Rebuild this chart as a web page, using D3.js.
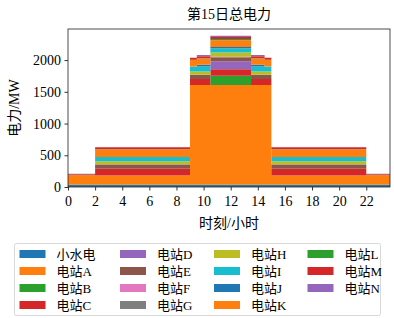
<!DOCTYPE html>
<html>
<head>
<meta charset="utf-8">
<script src="https://cdn.jsdelivr.net/npm/d3@7"></script>
<style>
body { margin: 0; background: #fff; }
text { font-family: "Liberation Serif", "Noto Sans CJK SC", serif; fill: #000; }
</style>
</head>
<body>
<div id="plot"></div>
<script>
// segment start hours (step after), last point closes the range
const hours = [0, 2, 9, 9.5, 10.5, 13.5, 14.5, 15, 22, 23.75];
const names = ["小水电", "电站A", "电站B", "电站C", "电站D", "电站E", "电站F", "电站G",
               "电站H", "电站I", "电站J", "电站K", "电站L", "电站M", "电站N"];
const s0 = [35, 35, 35, 35, 35, 35, 35, 35, 35];
const sA = [150, 147, 1572, 1572, 1572, 1572, 1572, 147, 150];
const sB = [0, 0, 0, 0, 147, 0, 0, 0, 0];
const sC = [15, 105, 95, 95, 100, 95, 95, 105, 15];
const sD = [0, 0, 0, 0, 126, 0, 0, 0, 0];
const sE = [0, 68, 63, 63, 63, 63, 63, 68, 0];
const sF = [0, 0, 0, 0, 4, 0, 0, 0, 0];
const sG = [8, 4, 4, 4, 4, 4, 4, 4, 8];
const sH = [0, 47, 52, 52, 68, 52, 52, 47, 0];
const sI = [0, 68, 79, 79, 68, 79, 79, 68, 0];
const sJ = [0, 0, 0, 25, 20, 25, 0, 0, 0];
const sK = [0, 117, 100, 100, 105, 100, 100, 117, 0];
const sL = [0, 5, 5, 5, 20, 5, 5, 5, 0];
const sM = [0, 30, 30, 30, 30, 30, 30, 30, 0];
const sN = [0, 0, 0, 20, 20, 20, 0, 0, 0];
const series = [s0, sA, sB, sC, sD, sE, sF, sG, sH, sI, sJ, sK, sL, sM, sN];
const xTicks = [0, 2, 4, 6, 8, 10, 12, 14, 16, 18, 20, 22];
const yTicks = [0, 500, 1000, 1500, 2000];
const colors = ["#1f77b4", "#ff7f0e", "#2ca02c", "#d62728", "#9467bd", "#8c564b", "#e377c2",
                "#7f7f7f", "#bcbd22", "#17becf", "#1f77b4", "#ff7f0e", "#2ca02c", "#d62728", "#9467bd"];

let W = 394, H = 318;
let margin = {top: 29, right: 4, bottom: 131, left: 68};
let width = W - margin.left - margin.right;
let height = H - margin.top - margin.bottom;

let svg = d3.select("#plot").append("svg")
	.attr("width", W).attr("height", H);
let g = svg.append("g")
	.attr("transform", "translate(" + margin.left + "," + margin.top + ")");

// table of rows, one per time point
let rows = hours.map((h, i) => {
	let r = {h: h};
	names.forEach((n, k) => r[n] = series[k][Math.min(i, series[k].length - 1)]);
	return r;
});
let stacked = d3.stack().keys(names)(rows);

let x = d3.scaleLinear().domain([0, 23.75]).range([0, width]);
let y = d3.scaleLinear().domain([0, 2490]).range([height, 0]);

let area = d3.area()
	.curve(d3.curveStepAfter)
	.x(d => x(d.data.h))
	.y0(d => y(d[0]))
	.y1(d => y(d[1]));

g.selectAll(".layer")
	.data(stacked)
	.enter().append("path")
		.attr("d", area)
		.attr("fill", (d, i) => colors[i]);

let xAxis = g.append("g")
	.attr("transform", "translate(0," + height + ")")
	.call(d3.axisBottom(x).tickValues(xTicks).tickFormat(d3.format("d")).tickSize(3.5).tickPadding(3.5));
let yAxis = g.append("g")
	.call(d3.axisLeft(y).tickValues(yTicks).tickFormat(d3.format("d")).tickSize(3.5).tickPadding(3.5));
[xAxis, yAxis].forEach(a => {
	a.select(".domain").remove();
	a.selectAll("text").style("font-size", "14px");
	a.selectAll("line").attr("stroke", "#000").attr("stroke-width", 0.8);
});
xAxis.selectAll("text").attr("dy", "0.85em");

g.append("rect")
	.attr("width", width).attr("height", height)
	.attr("fill", "none").attr("stroke", "#222").attr("stroke-width", 0.8);

svg.append("text")
	.attr("x", margin.left + width / 2).attr("y", 19)
	.attr("text-anchor", "middle").style("font-size", "14px")
	.text("第15日总电力");
svg.append("text")
	.attr("x", margin.left + width / 2).attr("y", 228)
	.attr("text-anchor", "middle").style("font-size", "14px")
	.text("时刻/小时");
svg.append("text")
	.attr("transform", "translate(19," + (margin.top + height / 2) + ") rotate(-90)")
	.attr("text-anchor", "middle").style("font-size", "14px")
	.text("电力/MW");

// legend
let legend = svg.append("g");
legend.append("rect")
	.attr("x", 14.5).attr("y", 243.5).attr("width", 366).attr("height", 72)
	.attr("rx", 2).attr("fill", "#fff").attr("stroke", "#d8d8d8");
let colX = [19.5, 120, 214, 307.5];
names.forEach((n, i) => {
	let c = Math.floor(i / 4), r = i % 4;
	let cy = 254 + r * 17;
	legend.append("rect")
		.attr("x", colX[c]).attr("y", cy - 4).attr("width", 26).attr("height", 8)
		.attr("fill", colors[i]);
	legend.append("text")
		.attr("x", colX[c] + 37).attr("y", cy + 5)
		.style("font-size", "13px")
		.text(n);
});
</script>
</body>
</html>
